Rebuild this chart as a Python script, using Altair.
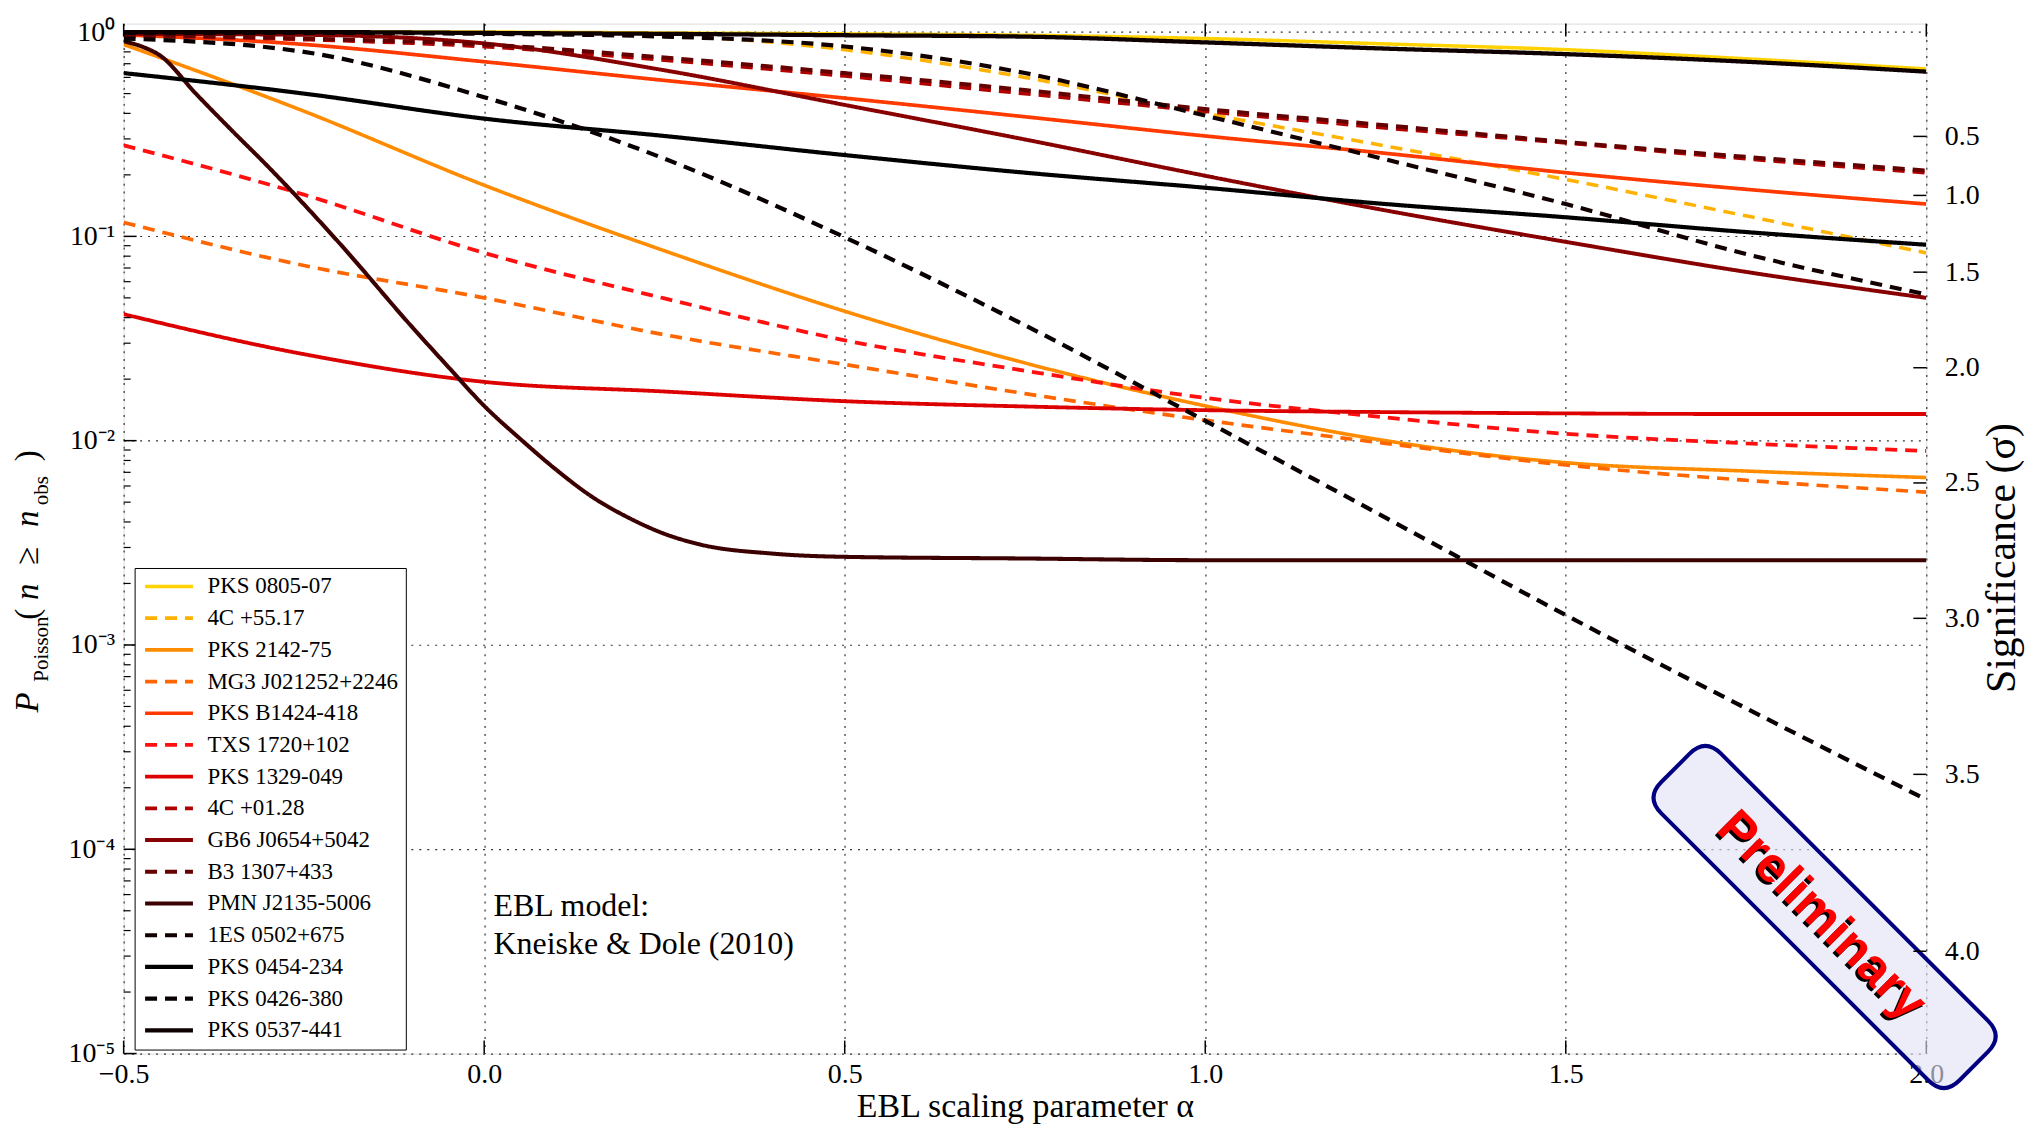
import math
import altair as alt
import pandas as pd

# ---------------- data ----------------
ALPHA = [-0.5, -0.25, 0.0, 0.25, 0.5, 0.75, 1.0, 1.25, 1.5, 1.75, 2.0]
ALPHA_PMN = [-0.5, -0.475, -0.45, -0.4, -0.35, -0.3, -0.2, -0.1, -0.05, 0.0, 0.05,
             0.1, 0.15, 0.2, 0.25, 0.3, 0.4, 0.5, 0.75, 1.0, 1.5, 2.0]

SERIES = ["PKS 0805-07", "4C +55.17", "PKS 2142-75", "MG3 J021252+2246",
          "PKS B1424-418", "TXS 1720+102", "PKS 1329-049", "4C +01.28",
          "GB6 J0654+5042", "B3 1307+433", "PMN J2135-5006", "1ES 0502+675",
          "PKS 0454-234", "PKS 0426-380", "PKS 0537-441"]
COLORS = ["#FFD200", "#FFB300", "#FF8C00", "#FF6600", "#FF3A00", "#FF1010",
          "#DD0000", "#B00000", "#880000", "#640000", "#3C0000", "#120000",
          "#000000", "#080000", "#0E0000"]
DASHED = [False, True, False, True, False, True, False, True, False, True,
          False, True, False, True, False]

P_PKS0805 = [1.0, 1.0, 1.0, 0.99, 0.98, 0.965, 0.93, 0.875, 0.82, 0.74, 0.66]
P_4C5517 = [1.0, 0.995, 0.99, 0.96, 0.82, 0.60, 0.40, 0.277, 0.19, 0.126, 0.083]
P_PKS2142 = [0.87, 0.41, 0.178, 0.085, 0.043, 0.024, 0.0148, 0.0100, 0.0078, 0.0071, 0.0066]
P_MG3 = [0.117, 0.072, 0.050, 0.033, 0.0236, 0.017, 0.0126, 0.0097, 0.0076, 0.0064, 0.0056]
P_PKSB1424 = [0.97, 0.87, 0.716, 0.58, 0.475, 0.385, 0.31, 0.255, 0.205, 0.17, 0.144]
P_TXS = [0.279, 0.16, 0.083, 0.0497, 0.031, 0.022, 0.0162, 0.013, 0.0108, 0.0097, 0.0089]
P_PKS1329 = [0.0416, 0.0265, 0.0194, 0.0174, 0.0156, 0.0147, 0.0141, 0.0138, 0.0136, 0.0135, 0.0135]
P_4C0128 = [0.96, 0.92, 0.85, 0.73, 0.61, 0.50, 0.41, 0.34, 0.287, 0.24, 0.205]
P_GB6 = [0.98, 0.97, 0.88, 0.65, 0.44, 0.298, 0.198, 0.134, 0.094, 0.067, 0.05]
P_B3 = [0.97, 0.93, 0.87, 0.75, 0.63, 0.52, 0.42, 0.35, 0.29, 0.245, 0.21]
P_PMN = [0.90, 0.85, 0.77, 0.50, 0.33, 0.22, 0.092, 0.036, 0.023, 0.0148, 0.0102,
         0.0072, 0.0053, 0.0042, 0.0035, 0.0031, 0.0028, 0.0027, 0.00265, 0.0026,
         0.0026, 0.0026]
P_1ES = [0.99, 0.99, 0.98, 0.95, 0.85, 0.63, 0.39, 0.238, 0.144, 0.082, 0.052]
P_PKS0454 = [0.63, 0.50, 0.377, 0.31, 0.25, 0.205, 0.173, 0.144, 0.124, 0.105, 0.091]
P_PKS0426 = [0.93, 0.80, 0.48, 0.24, 0.099, 0.0367, 0.0125, 0.0042, 0.0014, 0.00049, 0.000175]
P_PKS0537 = [1.0, 1.0, 0.99, 0.98, 0.965, 0.95, 0.89, 0.83, 0.78, 0.716, 0.64]

VALUES = [P_PKS0805, P_4C5517, P_PKS2142, P_MG3, P_PKSB1424, P_TXS, P_PKS1329,
          P_4C0128, P_GB6, P_B3, P_PMN, P_1ES, P_PKS0454, P_PKS0426, P_PKS0537]

# axis ticks
LOG_MAJOR = [1.0, 1e-1, 1e-2, 1e-3, 1e-4, 1e-5]
LOG_LABELS = ["10⁰", "10⁻¹", "10⁻²", "10⁻³", "10⁻⁴", "10⁻⁵"]
LOG_MINOR = [m * 10.0 ** k for k in range(-5, 0) for m in range(2, 10)]
ALPHA_TICKS = [-0.5, 0.0, 0.5, 1.0, 1.5, 2.0]
SIGMA_TICKS = [0.5, 1.0, 1.5, 2.0, 2.5, 3.0, 3.5, 4.0]
SIGMA_P = [0.5 * math.erfc(s / math.sqrt(2)) for s in SIGMA_TICKS]

# ---------------- build table ----------------
rows = []
for name, vals in zip(SERIES, VALUES):
    xs = ALPHA_PMN if name == "PMN J2135-5006" else ALPHA
    for a, p in zip(xs, vals):
        rows.append({"series": name, "alpha": a, "p": p})
df = pd.DataFrame(rows)

W, H = 1808, 1033
SERIF = "Liberation Serif"

xscale = alt.Scale(domain=[-0.5, 2.0], nice=False, zero=False)
yscale = alt.Scale(type="log", domain=[1e-5, 1.1], nice=False)

DASH_RANGE = [[12, 8] if d else [1, 0] for d in DASHED]
WIDTH_RANGE = [4.3 if d else 3.5 for d in DASHED]

legend = alt.Legend(
    title=None, orient="none", legendX=11, legendY=546,
    fillColor="white", strokeColor="black", padding=7,
    symbolType="M -1,0 L 5,0", symbolSize=256, symbolStrokeWidth=3.5,
    labelFont=SERIF, labelFontSize=23, labelColor="black", labelLimit=500,
    rowPadding=7.8, labelOffset=43,
)

label_expr_y = " : ".join(
    f"abs(datum.value - {v}) < {v} * 0.01 ? '{l}'" for v, l in zip(LOG_MAJOR, LOG_LABELS)
) + " : ''"

label_expr_sig = " : ".join(
    f"abs(datum.value - {p}) < {p} * 0.01 ? '{s:.1f}'" for s, p in zip(SIGMA_TICKS, SIGMA_P)
) + " : ''"

xaxis = alt.Axis(values=ALPHA_TICKS, format=".1f", grid=True,
                 gridDash=[2, 6], gridColor="#333", gridWidth=1.2,
                 ticks=False, tickSize=0, domain=False,
                 labelFont=SERIF, labelFontSize=28, labelColor="black",
                 labelPadding=7, labelFlush=False,
                 title="EBL scaling parameter α", titleFont=SERIF,
                 titleFontSize=34, titleFontWeight="normal",
                 titleColor="black", titlePadding=1)
yaxis = alt.Axis(values=LOG_MAJOR, labelExpr=label_expr_y, grid=True,
                 gridDash=[2, 6], gridColor="#333", gridWidth=1.2,
                 ticks=False, tickSize=0, domain=False,
                 labelFont=SERIF, labelFontSize=28, labelColor="black",
                 labelPadding=9, labelFlush=False, title=None)

lines = alt.Chart(df).mark_line(interpolate="monotone", clip=True).encode(
    x=alt.X("alpha:Q", scale=xscale, axis=xaxis),
    y=alt.Y("p:Q", scale=yscale, axis=yaxis),
    color=alt.Color("series:N", scale=alt.Scale(domain=SERIES, range=COLORS),
                    sort=SERIES, legend=legend),
    strokeDash=alt.StrokeDash("series:N", scale=alt.Scale(domain=SERIES, range=DASH_RANGE),
                              sort=SERIES, legend=legend),
    strokeWidth=alt.StrokeWidth("series:N", scale=alt.Scale(domain=SERIES, range=WIDTH_RANGE),
                                legend=None),
    detail="series:N",
)

# inward tick marks (matplotlib style)
maj_df = pd.DataFrame({"p": LOG_MAJOR})
min_df = pd.DataFrame({"p": LOG_MINOR})
a_df = pd.DataFrame({"alpha": ALPHA_TICKS})
s_df = pd.DataFrame({"p": SIGMA_P})

left_major = alt.Chart(maj_df).mark_rule(color="black", strokeWidth=1.5).encode(
    y=alt.Y("p:Q", scale=yscale, axis=yaxis), x=alt.value(0), x2=alt.value(13))
left_minor = alt.Chart(min_df).mark_rule(color="black", strokeWidth=1.2).encode(
    y=alt.Y("p:Q", scale=yscale, axis=yaxis), x=alt.value(0), x2=alt.value(7))
bottom_ticks = alt.Chart(a_df).mark_rule(color="black", strokeWidth=1.5).encode(
    x=alt.X("alpha:Q", scale=xscale, axis=xaxis), y=alt.value(H - 13), y2=alt.value(H))
top_ticks = alt.Chart(a_df).mark_rule(color="black", strokeWidth=1.5).encode(
    x=alt.X("alpha:Q", scale=xscale, axis=xaxis), y=alt.value(0), y2=alt.value(13))

one = pd.DataFrame({"k": [0]})


def txt(text, x, y, size, style="normal", weight="normal", font=SERIF,
        angle=0, align="left", baseline="alphabetic", color="black"):
    return alt.Chart(one).mark_text(
        text=text, font=font, fontSize=size, fontStyle=style, fontWeight=weight,
        angle=angle, align=align, baseline=baseline, color=color,
    ).encode(x=alt.value(x), y=alt.value(y))


# y-axis title P_Poisson(n >= n_obs), rotated
XM, XS = -86, -76
ytitle = [
    txt("P", XM, 691, 33, style="italic", angle=270),
    txt("Poisson", XS, 660, 21, angle=270),
    txt("(", XM, 598, 33, angle=270),
    txt("n", XM, 578, 33, style="italic", angle=270),
    txt("≥", XM, 543, 33, angle=270),
    txt("n", XM, 505, 33, style="italic", angle=270),
    txt("obs", XS, 483, 21, angle=270),
    txt(")", XM, 439, 33, angle=270),
]

right_title = txt("Significance (σ)", 1897, 536, 42, angle=270, align="center")

ebl1 = txt("EBL model:", 371, 895, 32)
ebl2 = txt("Kneiske & Dole (2010)", 371, 933, 32)

# "Preliminary" stamp
BOX = ("M -0.895,-0.2 L 0.895,-0.2 Q 1,-0.2 1,-0.095 L 1,0.095 Q 1,0.2 0.895,0.2 "
       "L -0.895,0.2 Q -1,0.2 -1,0.095 L -1,-0.095 Q -1,-0.2 -0.895,-0.2 Z")
box = alt.Chart(one).mark_point(
    shape=BOX, size=423 * 423, angle=45, filled=True, fill="#E2E2F6",
    fillOpacity=0.62, stroke="#000080", strokeWidth=4, opacity=1,
).encode(x=alt.value(1706), y=alt.value(896))
prelim_shadow = txt("Preliminary", 1700.5, 897.5, 50, weight="bold",
                    font="Liberation Sans", angle=45, align="center",
                    baseline="middle", color="black")
prelim = txt("Preliminary", 1703, 895, 50, weight="bold",
             font="Liberation Sans", angle=45, align="center",
             baseline="middle", color="#FF0000")

main = alt.layer(lines, left_major, left_minor, bottom_ticks, top_ticks,
                 *ytitle, right_title, ebl1, ebl2, box, prelim_shadow, prelim)

right_ticks = alt.Chart(s_df).mark_rule(color="black", strokeWidth=1.5).encode(
    y=alt.Y("p:Q", scale=yscale,
            axis=alt.Axis(orient="right", values=SIGMA_P, labelExpr=label_expr_sig,
                          grid=False, ticks=False, tickSize=0, domain=False,
                          labelFont=SERIF, labelFontSize=28, labelColor="black",
                          labelPadding=18, labelFlush=False, title=None)),
    x=alt.value(W - 13), x2=alt.value(W),
)

chart = alt.layer(main, right_ticks).resolve_scale(y="independent").properties(
    width=W, height=H,
    autosize=alt.AutoSizeParams(type="none"),
    padding={"left": 116, "top": 14, "right": 100, "bottom": 70},
).configure_view(stroke="black", strokeWidth=2.5).configure(background="white")

chart.save("out.html", embed_options={"renderer": "svg", "actions": False})
